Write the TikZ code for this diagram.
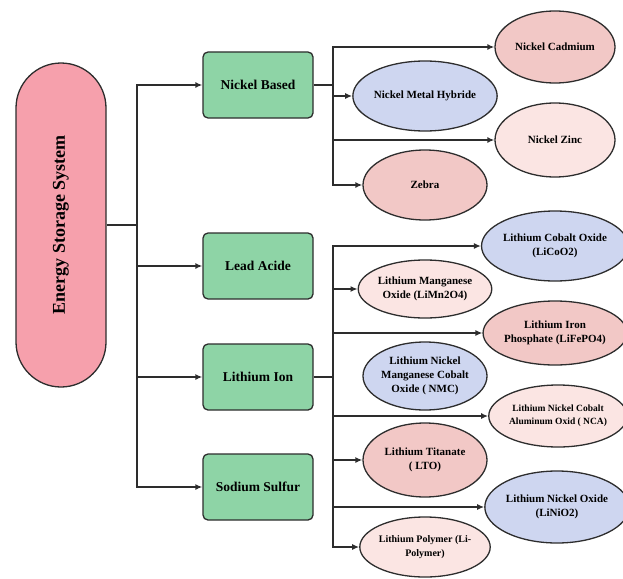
\documentclass[tikz,border=0pt]{standalone}
\usepackage{fontspec}
\setmainfont{Liberation Serif}
\usepackage{tikz}
\usetikzlibrary{shapes,arrows,positioning,calc,arrows.meta}

\definecolor{esspink}{RGB}{246,160,172}
\definecolor{boxgreen}{RGB}{142,212,166}
\definecolor{ellblue}{RGB}{206,214,240}
\definecolor{ellsalmon}{RGB}{242,200,198}
\definecolor{elllight}{RGB}{251,229,227}
\definecolor{edge}{RGB}{45,45,45}

\begin{document}
\begin{tikzpicture}[x=1pt,y=-1pt,
    link/.style={draw=edge, line width=1.4pt},
    arrow/.style={link, -{Latex[length=7pt,width=6pt]}},
    catbox/.style={draw=edge, line width=1.3pt, fill=boxgreen, rounded corners=5pt,
        minimum width=110pt, minimum height=66pt, inner sep=0pt,
        font=\fontsize{13.5}{16}\selectfont\bfseries},
    chem/.style={ellipse, draw=edge, line width=1.3pt, inner sep=0pt, align=center,
        font=\fontsize{11}{14}\selectfont\bfseries},
    blueell/.style={chem, fill=ellblue},
    salmonell/.style={chem, fill=ellsalmon},
    lightell/.style={chem, fill=elllight}]
        \useasboundingbox (0,0) rectangle (623,578);

        % Main system
        \node[draw=edge, line width=1.3pt, fill=esspink, rounded corners=45pt,
            minimum width=90pt, minimum height=324pt, inner sep=0pt]
            (ess) at (61,225) {};
        \node[rotate=90, font=\fontsize{18}{20}\selectfont\bfseries] (esslabel) at (ess.center) {Energy Storage System};

        % Battery families
        \node[catbox] (nickel) at (258,85) {Nickel Based};
        \node[catbox] (lead) at (258,266) {Lead Acide};
        \node[catbox] (lithium) at (258,377) {Lithium Ion};
        \node[catbox] (sodium) at (258,487) {Sodium Sulfur};

        \coordinate (j0) at (137,225);
        \draw[link, line width=2pt] (ess.east) -- (j0);
        \draw[arrow] (j0) |- (nickel.west);
        \draw[arrow] (j0) |- (lead.west);
        \draw[arrow] (j0) |- (lithium.west);
        \draw[arrow] (j0) |- (sodium.west);

        % Nickel based types
        \node[salmonell, minimum width=120pt, minimum height=72pt] (nicd) at (555,47) {Nickel Cadmium};
        \node[blueell, minimum width=124pt, minimum height=70pt] (nimh) at (425,96) {Nickel Metal Hybride};
        \node[lightell, minimum width=120pt, minimum height=74pt] (nizn) at (555,140) {Nickel Zinc};
        \node[salmonell, minimum width=124pt, minimum height=70pt] (zebra) at (425,185) {Zebra};

        \coordinate (j1) at (333,85);
        \draw[link, line width=2pt] (nickel.east) -- (j1);
        \draw[arrow] (j1) |- (nicd.west);
        \draw[arrow] (j1) |- (nimh.west);
        \draw[arrow] (j1) |- (nizn.west);
        \draw[arrow] (j1) |- (zebra.west);

        % Lithium ion types
        \node[blueell, minimum width=120pt, minimum height=70pt] (lco) at (555,246) {Lithium Cobalt Oxide\\(LiCoO2)};
        \node[lightell, minimum width=124pt, minimum height=58pt] (lmo) at (425,289) {Lithium Manganese\\Oxide (LiMn2O4)};
        \node[salmonell, minimum width=120pt, minimum height=64pt] (lfp) at (555,333) {Lithium Iron\\Phosphate (LiFePO4)};
        \node[blueell, minimum width=124pt, minimum height=68pt] (nmc) at (425,376) {Lithium Nickel\\Manganese Cobalt\\Oxide ( NMC)};
        \node[lightell, minimum width=126pt, minimum height=62pt, font=\fontsize{9.5}{13}\selectfont\bfseries] (nca) at (558,416) {Lithium Nickel Cobalt\\Aluminum Oxid ( NCA)};
        \node[salmonell, minimum width=124pt, minimum height=74pt] (lto) at (425,460) {Lithium Titanate\\( LTO)};
        \node[blueell, minimum width=124pt, minimum height=72pt] (lno) at (557,507) {Lithium Nickel Oxide\\(LiNiO2)};
        \node[lightell, minimum width=124pt, minimum height=60pt, font=\fontsize{10}{14}\selectfont\bfseries] (lpo) at (425,547) {Lithium Polymer (Li-\\Polymer)};

        \coordinate (j2) at (333,377);
        \draw[link, line width=2pt] (lithium.east) -- (j2);
        \draw[arrow] (j2) |- (lco.west);
        \draw[arrow] (j2) |- (lmo.west);
        \draw[arrow] (j2) |- (lfp.west);
        \draw[arrow] (j2) |- (nca.west);
        \draw[arrow] (j2) |- (lto.west);
        \draw[arrow] (j2) |- (lno.west);
        \draw[arrow] (j2) |- (lpo.west);
\end{tikzpicture}
\end{document}
